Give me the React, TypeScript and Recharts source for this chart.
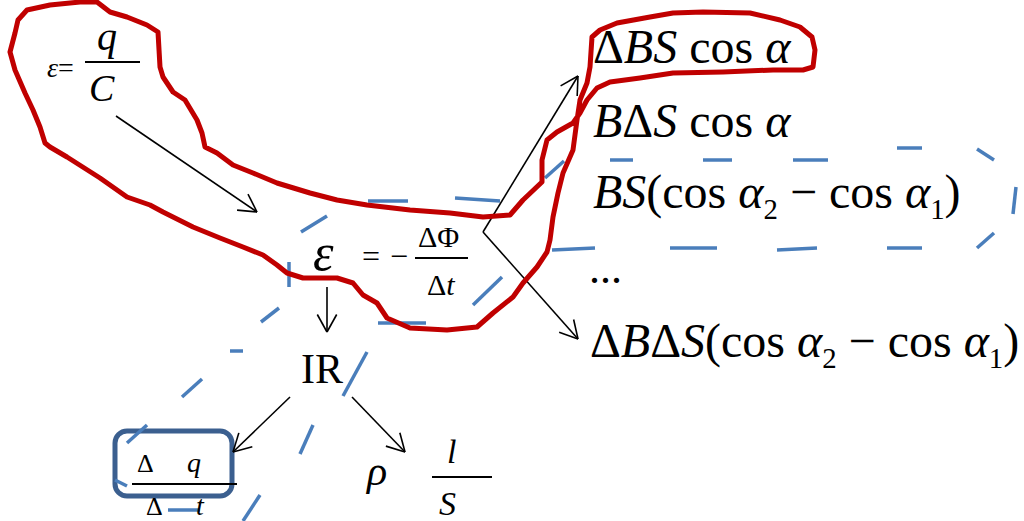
import React, { useEffect, useState } from 'react';
import { ScatterChart, Scatter, XAxis, YAxis, ReferenceLine, ReferenceArea } from 'recharts';

// the canvas is mapped 1:1 onto the picture: x 0..1024, y 0..521 (y down)
const W = 1024;
const H = 521;

const RED = '#c00000';
const BLUE = '#4a7ebb';
const BOX = '#3b5f8f';
const FONT = '"Liberation Serif", "Times New Roman", serif';
const SP = '\u00a0';

// ask for the serif faces straight away, before anything is drawn
const fontsLoading: Promise<unknown> =
  typeof document !== 'undefined' && (document as any).fonts
    ? Promise.all([
        (document as any).fonts.load('48px "Liberation Serif"', 'IRΔαε'),
        (document as any).fonts.load('italic 48px "Liberation Serif"', 'BSαεqt'),
      ]).catch(() => null)
    : Promise.resolve(null);

type Part = { t: string; i?: boolean; sub?: boolean };
type Label = { x: number; y: number; size: number; parts: Part[] };

// hand-drawn red outline, traced clockwise from the top-left
const redLoop = [
  [10, 52], [15, 33], [18, 20], [27, 10], [50, 5], [80, 2], [97, 2], [110, 12], [127, 17],
  [147, 25], [158, 32], [160, 67], [163, 77], [173, 92], [185, 100], [197, 120], [202, 133],
  [205, 147], [217, 153], [233, 165], [253, 173], [277, 183], [310, 193], [337, 200],
  [367, 205], [410, 210], [450, 213], [483, 217], [510, 215], [523, 200], [542, 182],
  [542, 160], [547, 140], [557, 132], [573, 123], [580, 113], [587, 100], [597, 88],
  [610, 82], [640, 78], [673, 73], [723, 72], [773, 70], [803, 70], [813, 67], [815, 50],
  [812, 37], [800, 27], [780, 20], [750, 13], [703, 12], [673, 13], [650, 17], [617, 23],
  [600, 30], [592, 37], [590, 67], [587, 83], [580, 100], [577, 120], [573, 150],
  [563, 173], [558, 193], [553, 217], [550, 240], [547, 252], [537, 267], [523, 283],
  [513, 297], [493, 313], [477, 327], [447, 330], [410, 328], [387, 318], [377, 303],
  [363, 295], [353, 283], [337, 278], [303, 278], [287, 273], [277, 265], [263, 255],
  [243, 247], [220, 238], [193, 227], [163, 212], [150, 205], [127, 197], [100, 178],
  [67, 157], [50, 147], [45, 143], [40, 127], [33, 110], [25, 93], [15, 70], [10, 52],
].map(([x, y]) => ({ x, y }));

// blue dashes of the second outline
const blueDashes = [
  [368, 201, 408, 201], [455, 198, 500, 201], [545, 178, 564, 161], [610, 160, 633, 160],
  [703, 160, 732, 160], [793, 160, 828, 160], [897, 148, 922, 148], [977, 149, 994, 160],
  [1016, 187, 1013, 214], [994, 233, 977, 248], [887, 248, 922, 248], [777, 250, 817, 248],
  [670, 248, 717, 248], [552, 250, 595, 248], [473, 305, 502, 277], [378, 323, 426, 323],
  [343, 396, 367, 352], [300, 454, 313, 425], [243, 521, 260, 495], [168, 510, 200, 510],
  [115, 480, 127, 486], [127, 443, 147, 425], [182, 397, 202, 379], [230, 351, 243, 351],
  [261, 322, 279, 308], [289, 262, 289, 287], [301, 232, 327, 216],
];

const arrows = [
  [116, 116, 257, 212],
  [327, 287, 327, 332],
  [483, 232, 578, 76],
  [483, 232, 578, 339],
  [290, 397, 233, 452],
  [352, 397, 405, 452],
];

// fraction bars
const bars = [
  [85, 62, 140, 62],
  [415, 258, 468, 258],
  [132, 484, 237, 484],
  [432, 477, 492, 477],
];

const labels: Label[] = [
  { x: 47, y: 77, size: 28, parts: [{ t: 'ε', i: true }, { t: '=' }] },
  { x: 97, y: 50, size: 40, parts: [{ t: 'q', i: true }] },
  { x: 89, y: 101, size: 38, parts: [{ t: 'C', i: true }] },
  { x: 313, y: 270, size: 52, parts: [{ t: 'ε', i: true }] },
  { x: 362, y: 267, size: 32, parts: [{ t: '=' }] },
  { x: 390, y: 267, size: 32, parts: [{ t: '−' }] },
  { x: 418, y: 247, size: 30, parts: [{ t: 'ΔΦ' }] },
  { x: 427, y: 295, size: 30, parts: [{ t: 'Δ' }, { t: 't', i: true }] },
  { x: 593, y: 63, size: 48, parts: [{ t: 'Δ' }, { t: 'BS', i: true }, { t: SP + 'cos' + SP }, { t: 'α', i: true }] },
  { x: 593, y: 137, size: 48, parts: [{ t: 'B', i: true }, { t: 'Δ' }, { t: 'S', i: true }, { t: SP + 'cos' + SP }, { t: 'α', i: true }] },
  {
    x: 593, y: 208, size: 48,
    parts: [
      { t: 'BS', i: true }, { t: '(cos' + SP }, { t: 'α', i: true }, { t: '2', sub: true },
      { t: SP + '−' + SP + 'cos' + SP }, { t: 'α', i: true }, { t: '1', sub: true }, { t: ')' },
    ],
  },
  { x: 589, y: 283, size: 44, parts: [{ t: '...' }] },
  {
    x: 590, y: 357, size: 48,
    parts: [
      { t: 'Δ' }, { t: 'B', i: true }, { t: 'Δ' }, { t: 'S', i: true }, { t: '(cos' + SP },
      { t: 'α', i: true }, { t: '2', sub: true }, { t: SP + '−' + SP + 'cos' + SP }, { t: 'α', i: true },
      { t: '1', sub: true }, { t: ')' },
    ],
  },
  { x: 301, y: 383, size: 42, parts: [{ t: 'IR' }] },
  { x: 137, y: 472, size: 26, parts: [{ t: 'Δ' }] },
  { x: 187, y: 472, size: 28, parts: [{ t: 'q', i: true }] },
  { x: 146, y: 515, size: 26, parts: [{ t: 'Δ' }] },
  { x: 196, y: 515, size: 28, parts: [{ t: 't', i: true }] },
  { x: 367, y: 485, size: 42, parts: [{ t: 'ρ', i: true }] },
  { x: 447, y: 463, size: 34, parts: [{ t: 'l', i: true }] },
  { x: 439, y: 515, size: 34, parts: [{ t: 'S', i: true }] },
];

// two short strokes at the tip of each arrow
function arrowHeads(a: number[]) {
  const [x1, y1, x2, y2] = a;
  const ang = Math.atan2(y1 - y2, x1 - x2);
  const len = 20;
  const spread = (29 * Math.PI) / 180;
  return [ang - spread, ang + spread].map((t) => [x2, y2, x2 + len * Math.cos(t), y2 + len * Math.sin(t)]);
}

let measureCtx: CanvasRenderingContext2D | null = null;
function textWidth(t: string, size: number, italic: boolean) {
  if (!measureCtx) measureCtx = document.createElement('canvas').getContext('2d');
  if (!measureCtx) return t.length * size * 0.5;
  measureCtx.font = `${italic ? 'italic ' : ''}${size}px ${FONT}`;
  return measureCtx.measureText(t).width;
}

// each run of a formula is its own <text>, laid out left to right
function FormulaShape(props: any) {
  const { cx, cy, payload } = props;
  const { size, parts } = payload as Label;
  let x = cx;
  return (
    <g>
      {parts.map((p, k) => {
        const fs = p.sub ? size * 0.6 : size;
        const el = (
          <text
            key={k}
            className="fx"
            x={x}
            y={cy + (p.sub ? size * 0.22 : 0)}
            fill="#000"
            style={{ fontFamily: FONT, fontSize: fs, fontStyle: p.i ? 'italic' : 'normal' }}
          >
            {p.t}
          </text>
        );
        x += textWidth(p.t, fs, !!p.i);
        return el;
      })}
    </g>
  );
}

const seg = (s: number[]) => [
  { x: s[0], y: s[1] },
  { x: s[2], y: s[3] },
];

export default function App() {
  // once the serif faces are in, draw again so the runs are measured with them
  const [tick, setTick] = useState(0);
  useEffect(() => {
    let alive = true;
    fontsLoading
      .then(() => (document as any).fonts?.ready)
      .then(() => {
        if (alive) setTick((t) => t + 1);
      });
    return () => {
      alive = false;
    };
  }, []);

  return (
    <div style={{ position: 'absolute', left: 0, top: 0, width: W, height: H, background: '#fff', fontFamily: FONT }}>
      <style>{`#root svg text.fx { font-family: "Liberation Serif", "Times New Roman", serif !important; }`}</style>
      <ScatterChart key={tick} width={W} height={H} margin={{ top: 0, right: 0, bottom: 0, left: 0 }}>
        <XAxis type="number" dataKey="x" domain={[0, W]} hide allowDataOverflow />
        <YAxis type="number" dataKey="y" domain={[0, H]} reversed hide allowDataOverflow />

        {blueDashes.map((d, k) => (
          <ReferenceLine key={'b' + k} segment={seg(d)} stroke={BLUE} strokeWidth={3.5} ifOverflow="visible" />
        ))}

        <Scatter
          data={redLoop}
          fill={RED}
          line={{ stroke: RED, strokeWidth: 5, strokeLinejoin: 'round', strokeLinecap: 'round' }}
          lineJointType="linear"
          shape={() => <g />}
          isAnimationActive={false}
        />

        <ReferenceArea
          x1={115}
          x2={232}
          y1={431}
          y2={496}
          ifOverflow="visible"
          shape={(p: any) => (
            <rect x={p.x} y={p.y} width={p.width} height={p.height} rx={12} fill="none" stroke={BOX} strokeWidth={5} />
          )}
        />

        {bars.map((b, k) => (
          <ReferenceLine key={'f' + k} segment={seg(b)} stroke="#000" strokeWidth={2} ifOverflow="visible" />
        ))}

        {arrows.map((a, k) => (
          <ReferenceLine key={'a' + k} segment={seg(a)} stroke="#000" strokeWidth={1.6} ifOverflow="visible" />
        ))}
        {arrows.flatMap((a, k) =>
          arrowHeads(a).map((h, j) => (
            <ReferenceLine key={'h' + k + '-' + j} segment={seg(h)} stroke="#000" strokeWidth={1.6} ifOverflow="visible" />
          ))
        )}

        <Scatter data={labels} shape={FormulaShape} isAnimationActive={false} />
      </ScatterChart>
    </div>
  );
}
